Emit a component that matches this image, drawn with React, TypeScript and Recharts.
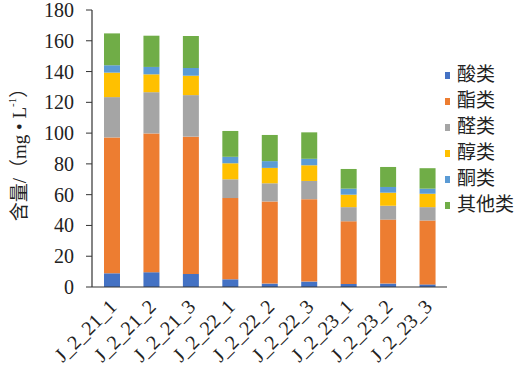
import React from 'react';
import { BarChart, Bar, XAxis, YAxis, Legend } from 'recharts';

const categories = ['J_2_21_1', 'J_2_21_2', 'J_2_21_3', 'J_2_22_1', 'J_2_22_2', 'J_2_22_3', 'J_2_23_1', 'J_2_23_2', 'J_2_23_3'];
const acids = [8.9, 9.6, 8.5, 5.0, 2.2, 3.5, 2.0, 2.2, 1.7];
const esters = [88.3, 90.2, 89.2, 52.8, 53.4, 53.6, 40.7, 41.6, 41.5];
const aldehydes = [26.2, 26.8, 27.0, 12.2, 11.8, 11.8, 9.2, 9.0, 8.7];
const alcohols = [15.9, 11.6, 12.6, 10.4, 10.0, 10.2, 8.1, 8.5, 8.7];
const ketones = [4.8, 4.8, 5.0, 4.2, 4.4, 4.2, 3.9, 3.7, 3.3];
const others = [20.7, 20.3, 20.8, 16.8, 17.0, 17.2, 12.8, 13.0, 13.3];
const yTicks = [0, 20, 40, 60, 80, 100, 120, 140, 160, 180];

const seriesNames = ['酸类', '酯类', '醛类', '醇类', '酮类', '其他类'];
const seriesKeys = ['acid', 'ester', 'aldehyde', 'alcohol', 'ketone', 'other'];
const seriesColors = ['#4472C4', '#ED7D31', '#A5A5A5', '#FFC000', '#5B9BD5', '#70AD47'];
const seriesValues = [acids, esters, aldehydes, alcohols, ketones, others];

const data = categories.map((name, i) => {
  const row: Record<string, any> = { name };
  seriesKeys.forEach((k, s) => {
    row[k] = seriesValues[s][i];
  });
  return row;
});

const serif = "'Liberation Serif', 'Times New Roman', 'DejaVu Serif', serif";
const cjk = "'Liberation Serif', 'Times New Roman', 'Noto Sans CJK SC', serif";

const XTick = (props: any) => {
  const { x, y, payload } = props;
  return (
    <text
      x={x + 6}
      y={y + 21}
      transform={`rotate(-45 ${x + 6} ${y + 21})`}
      textAnchor="end"
      style={{ fontFamily: serif, fontSize: 20 }}
      fill="#222"
    >
      {payload.value}
    </text>
  );
};

const YTick = (props: any) => {
  const { x, y, payload } = props;
  return (
    <text x={x} y={y} textAnchor="end" dominantBaseline="central" style={{ fontFamily: serif, fontSize: 20 }} fill="#222">
      {payload.value}
    </text>
  );
};

const YLabel = () => (
  <text
    x={19}
    y={150}
    transform="rotate(-90 19 150)"
    textAnchor="middle"
    dominantBaseline="central"
    style={{ fontFamily: cjk, fontSize: 19 }}
    fill="#222"
  >
    <tspan>含量/（mg • L</tspan>
    <tspan style={{ fontSize: 11 }} dy={-7}>-1</tspan>
    <tspan dy={7}>）</tspan>
  </text>
);

const LegendContent = () => (
  <div style={{ fontFamily: cjk }}>
    {seriesNames.map((n, i) => (
      <div key={n} style={{ display: 'flex', alignItems: 'center', height: 26 }}>
        <span style={{ display: 'inline-block', width: 5, height: 7, background: seriesColors[i], marginRight: 7 }} />
        <span style={{ fontSize: 19, color: '#222', lineHeight: '26px' }}>{n}</span>
      </div>
    ))}
  </div>
);

export default function App() {
  return (
    <div style={{ position: 'absolute', left: 0, top: 0, width: 525, height: 373, background: '#fff' }}>
      <BarChart width={525} height={373} data={data} margin={{ top: 10, right: 78, bottom: 0, left: 0 }}>
        <XAxis
          dataKey="name"
          height={86}
          interval={0}
          tickLine={false}
          tickSize={0}
          tickMargin={0}
          tick={<XTick />}
          axisLine={{ stroke: '#333', strokeWidth: 1.2 }}
        />
        <YAxis
          width={92}
          domain={[0, 180]}
          ticks={yTicks}
          interval={0}
          tickSize={6}
          tickMargin={12}
          tick={<YTick />}
          tickLine={{ stroke: '#333' }}
          axisLine={{ stroke: '#333', strokeWidth: 1.2 }}
          label={<YLabel />}
        />
        <Legend
          layout="vertical"
          align="center"
          verticalAlign="middle"
          content={<LegendContent />}
          wrapperStyle={{ left: 445, top: 62, width: 80 }}
        />
        {seriesKeys.map((k, i) => (
          <Bar key={k} dataKey={k} name={seriesNames[i]} stackId="a" fill={seriesColors[i]} barSize={16} isAnimationActive={false} />
        ))}
      </BarChart>
    </div>
  );
}
